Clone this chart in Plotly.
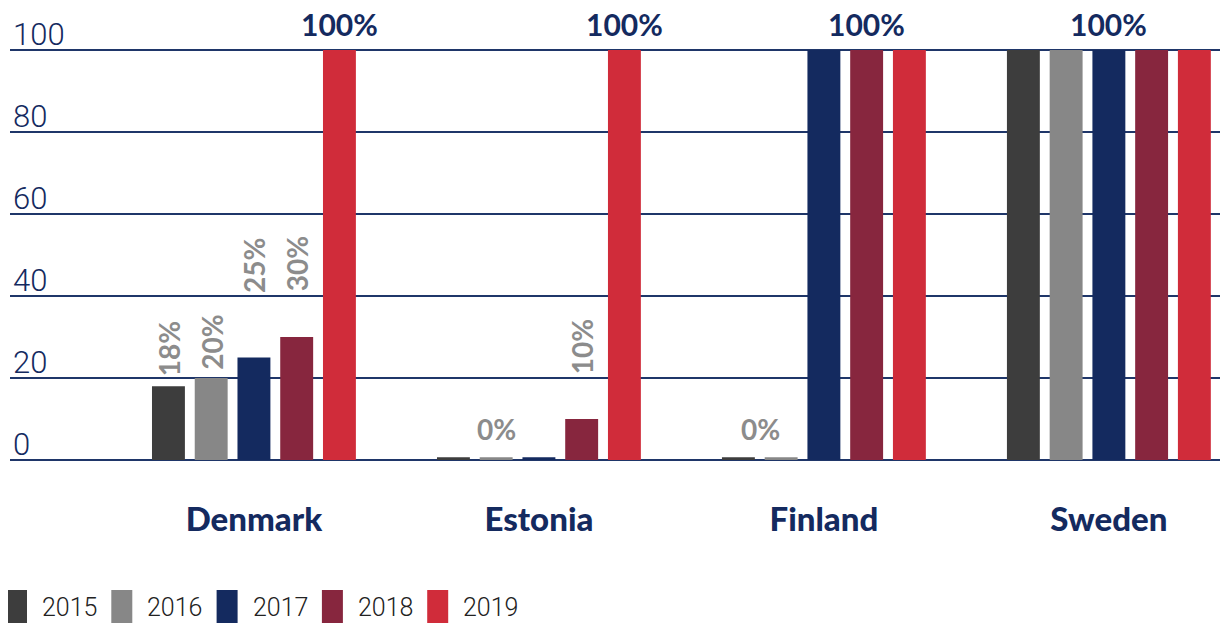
import plotly.graph_objects as go

countries = ["Denmark", "Estonia", "Finland", "Sweden"]
years = ["2015", "2016", "2017", "2018", "2019"]

# share per year, one value per country (tiny bars = 0 %)
share_2015 = [18, 0.7, 0.7, 100]
share_2016 = [20, 0.7, 0.7, 100]
share_2017 = [25, 0.7, 100, 100]
share_2018 = [30, 10, 100, 100]
share_2019 = [100, 100, 100, 100]
shares = [share_2015, share_2016, share_2017, share_2018, share_2019]

# value labels: (country, year, text)
label_cells = [
    ("Denmark", "2015", "18%"), ("Denmark", "2016", "20%"),
    ("Denmark", "2017", "25%"), ("Denmark", "2018", "30%"),
    ("Denmark", "2019", "100%"),
    ("Estonia", "2016", "0%"), ("Estonia", "2018", "10%"),
    ("Estonia", "2019", "100%"),
    ("Finland", "2016", "0%"), ("Finland", "2018", "100%"),
    ("Sweden", "2017", "100%"),
]

colors = ["#3d3d3d", "#878787", "#142a5f", "#87263e", "#d02c3a"]
navy = "#142a5f"
grid = "#1f3669"
gray = "#8c8c8c"

# label style: angle, pixel gap above bar, x nudge
label_style = {
    ("Denmark", "2015"): (-90, 12, 0), ("Denmark", "2016"): (-90, 10, 0),
    ("Denmark", "2017"): (-90, 67, 0), ("Denmark", "2018"): (-90, 48, 0),
    ("Estonia", "2018"): (-90, 47, 0),
    ("Estonia", "2016"): (0, 13, 0), ("Finland", "2016"): (0, 13, -21),
}

bargap = 0.25
slot = (1 - bargap) / len(years)

fig = go.Figure()
xs = list(range(len(countries)))
for yr, vals, c in zip(years, shares, colors):
    fig.add_trace(go.Bar(x=xs, y=vals, name=yr, marker_color=c,
                         marker_line_width=0, showlegend=False))

annotations = []
for ctry, yr, txt in label_cells:
    ci = countries.index(ctry)
    yi = years.index(yr)
    val = shares[yi][ci]
    xpos = ci + (yi - (len(years) - 1) / 2) * slot
    if txt == "100%":
        annotations.append(dict(x=xpos, y=val, text="<b>" + txt + "</b>", showarrow=False,
                                yanchor="bottom", yshift=6,
                                font=dict(family="Lato", size=30, color=navy)))
    else:
        ang, gap, dx = label_style[(ctry, yr)]
        annotations.append(dict(x=xpos, y=val, text="<b>" + txt + "</b>", showarrow=False,
                                textangle=ang, yanchor="bottom", yshift=gap - 4, xshift=dx,
                                font=dict(family="Lato", size=28, color=gray)))

# hand-drawn legend along the bottom (positions relative to the plot area)
shapes = []
plot_w = 1228 - 10
plot_h = 460 - 48
for i, (yr, c) in enumerate(zip(years, colors)):
    x0 = (6 + i * 105.3 - 10) / plot_w
    x1 = (27 + i * 105.3 - 10) / plot_w
    shapes.append(dict(type="rect", xref="paper", yref="paper",
                       x0=x0, x1=x1, y0=(460 - 630) / plot_h, y1=(460 - 590) / plot_h,
                       fillcolor=c, line_width=0, layer="above"))
    annotations.append(dict(xref="paper", yref="paper",
                            x=(40 + i * 105.3 - 10) / plot_w, y=(460 - 607) / plot_h,
                            xanchor="left", yanchor="middle", showarrow=False, text=yr,
                            font=dict(family="Roboto", size=25, color="#222222", weight=300)))

# page body has an 8px margin, so the figure is 8px smaller and all offsets shift by 8
fig.update_layout(
    width=1220, height=615,
    margin=dict(l=2, r=0, t=40, b=163),
    plot_bgcolor="white", paper_bgcolor="white",
    barmode="group", bargap=bargap, bargroupgap=0.23,
    annotations=annotations, shapes=shapes,
    xaxis=dict(range=[-0.856, 3.418], tickmode="array", tickvals=xs, ticktext=countries,
               showgrid=False, zeroline=False, showline=False, ticks="",
               ticklabelstandoff=37, automargin=False,
               tickfont=dict(family="Lato", size=33, color=navy, weight=900)),
    yaxis=dict(range=[0, 100.5], tickvals=[0, 20, 40, 60, 80, 100],
               showgrid=True, gridcolor=grid, gridwidth=2,
               zeroline=True, zerolinecolor=grid, zerolinewidth=2,
               showline=False, ticks="", automargin=False,
               ticklabelposition="inside", ticklabelshift=-16, ticklabelstandoff=0,
               ticklabeloverflow="allow",
               tickfont=dict(family="Roboto", size=31, color=navy, weight=300)),
)

fig.write_html("out.html")
